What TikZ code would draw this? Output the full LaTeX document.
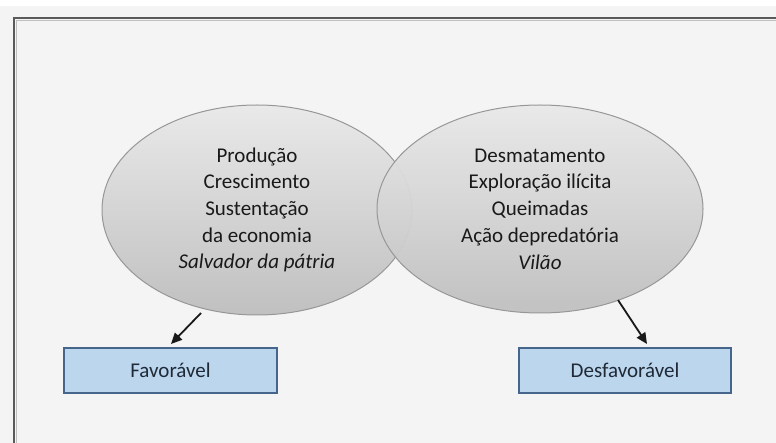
\documentclass[tikz,border=0pt]{standalone}
\usepackage{fontspec}
\setmainfont{Carlito}
\usetikzlibrary{shapes.geometric,arrows.meta}
\definecolor{bg}{HTML}{F4F4F4}
\definecolor{framec}{HTML}{5A5A5A}
\definecolor{elltop}{HTML}{E9E9E9}
\definecolor{ellbot}{HTML}{C0C0C0}
\definecolor{elldraw}{HTML}{979797}
\definecolor{boxfill}{HTML}{BCD6EE}
\definecolor{boxdraw}{HTML}{45668A}
\definecolor{boxtext}{HTML}{1F2A36}
\tikzset{
  blob/.style={ellipse, draw=elldraw, line width=1pt, top color=elltop, bottom color=ellbot,
    inner sep=0pt, align=center, text=black!90,
    font=\fontsize{21}{26.7}\selectfont},
  catbox/.style={rectangle, draw=boxdraw, line width=1.4pt, fill=boxfill, inner sep=0pt,
    text=boxtext, font=\fontsize{21}{25}\selectfont},
  arr/.style={-{Triangle[length=11pt,width=10pt]}, line width=1.8pt, black!90},
}
\begin{document}
\begin{tikzpicture}[x=1pt,y=-1pt]
\useasboundingbox (0,0) rectangle (776,443);
\fill[white] (0,0) rectangle (776,443);
\fill[bg] (0,6) rectangle (776,443);
\draw[framec, line width=1.6pt] (14,450) -- (14,18) -- (790,18);
\draw[black!25, line width=0.8pt] (16.6,450) -- (16.6,20.6) -- (790,20.6);

\node[blob, minimum width=310, minimum height=210] (L) at (257,210)
  {Produção\\Crescimento\\Sustentação\\da economia\\\textit{Salvador da pátria}};
\node[blob, minimum width=326, minimum height=208, fill opacity=0.96, text opacity=1] (R) at (540,209)
  {Desmatamento\\Exploração ilícita\\Queimadas\\Ação depredatória\\\textit{Vilão}};

\node[catbox, minimum width=213, minimum height=45] (F) at (170.5,370.5) {Favorável};
\node[catbox, minimum width=212, minimum height=45] (D) at (625,370.5) {Desfavorável};

\coordinate (a1s) at (201,313);
\coordinate (a1e) at (171,344);
\coordinate (a2s) at (618,300);
\coordinate (a2e) at (647,344);
\draw[arr] (a1s) -- (a1e);
\draw[arr] (a2s) -- (a2e);
\end{tikzpicture}
\end{document}
